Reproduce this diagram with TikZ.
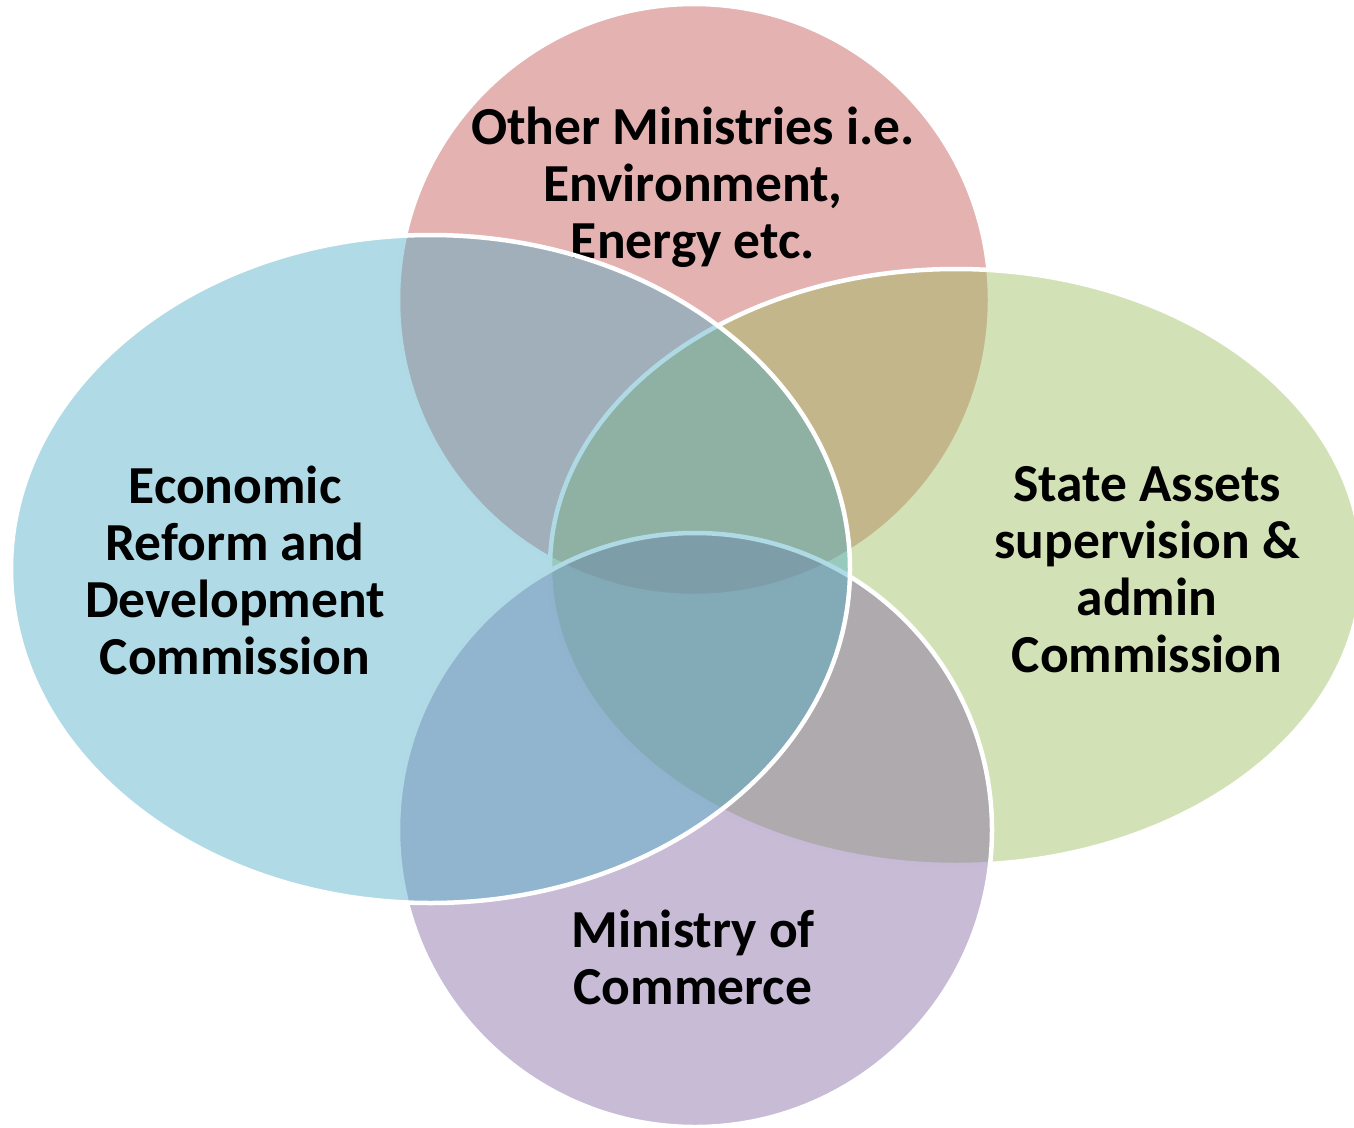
\documentclass[tikz,border=0pt]{standalone}
\usepackage{fontspec}
\setmainfont{Carlito}
\definecolor{cred}{RGB}{192,80,77}
\definecolor{cblue}{RGB}{75,172,198}
\definecolor{cgreen}{RGB}{155,187,89}
\definecolor{cpurple}{RGB}{128,100,162}
\tikzset{
  vset/.style={draw=white, line width=4.5pt, fill opacity=0.44, draw opacity=1},
  lbl/.style={font=\fontsize{53.5}{57}\selectfont\bfseries, align=center, text=black, inner sep=0pt}
}
\begin{document}
\begin{tikzpicture}[x=1pt,y=-1pt]
\useasboundingbox (0,0) rectangle (1354,1127);
\clip (0,0) rectangle (1354,1127);
% top circle (red)
\path[vset, fill=cred] (694,300) circle[radius=296pt];
\node[lbl] (ltop) at (693,187) {Other Ministries i.e.\\Environment,\\Energy etc.};
% right ellipse (green)
\path[vset, fill=cgreen] (956,567) ellipse[x radius=406pt, y radius=298pt];
\node[lbl] (lright) at (1147,570) {State Assets\\supervision \&\\admin\\Commission};
% bottom circle (purple)
\path[vset, fill=cpurple] (695,830) circle[radius=297pt];
\node[lbl] (lbottom) at (693,957) {Ministry of\\Commerce};
% left ellipse (blue)
\path[vset, fill=cblue] (430.5,569) ellipse[x radius=419.5pt, y radius=334pt];
\node[lbl] (lleft) at (235,570) {Economic\\Reform and\\Development\\Commission};
\end{tikzpicture}
\end{document}
